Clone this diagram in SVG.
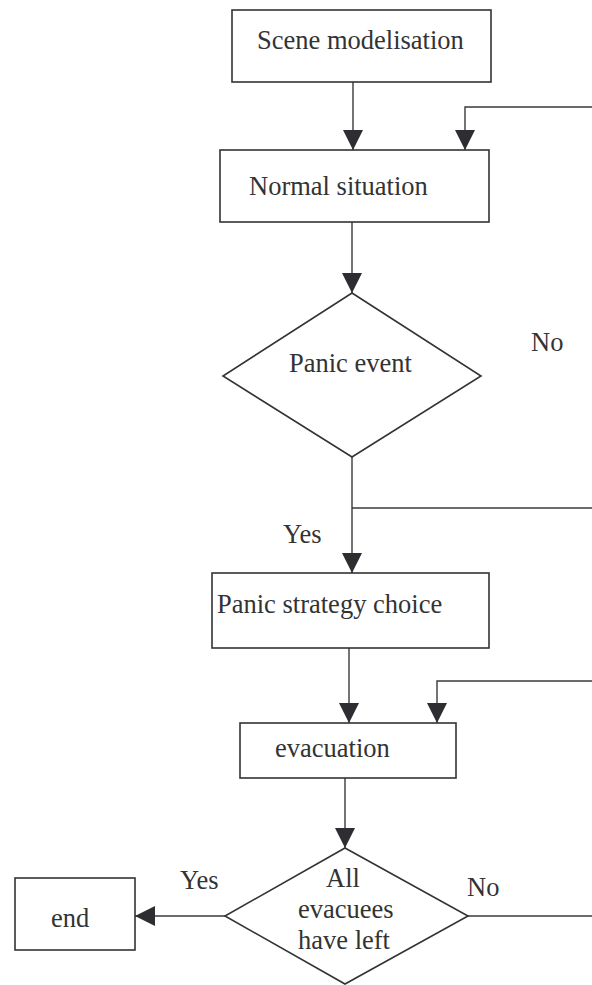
<svg xmlns="http://www.w3.org/2000/svg" width="592" height="985" viewBox="0 0 592 985">
<style>
.box{fill:#fff;stroke:#333;stroke-width:1.6}
.t{font-family:"Liberation Serif","Times New Roman",serif;font-size:26.5px;fill:#333}
.c{fill:none;stroke:#3a3a3a;stroke-width:1.4}
</style>
<defs>
<marker id="ah" markerUnits="userSpaceOnUse" markerWidth="20" markerHeight="20" refX="20" refY="10" orient="auto" viewBox="0 0 20 20">
<path d="M0,0 L20,10 L0,20 z" fill="#2e2e32"/>
</marker>
</defs>
<rect width="592" height="985" fill="#fff"/>
<g id="connectors">
<path class="c" d="M353,82 V150" marker-end="url(#ah)"/>
<path class="c" d="M592,107 H465 V150" marker-end="url(#ah)"/>
<path class="c" d="M352,222 V293" marker-end="url(#ah)"/>
<path class="c" d="M352,457 V573" marker-end="url(#ah)"/>
<path class="c" d="M352,508 H592"/>
<path class="c" d="M349,648 V723" marker-end="url(#ah)"/>
<path class="c" d="M592,681 H437 V723" marker-end="url(#ah)"/>
<path class="c" d="M345,778 V848" marker-end="url(#ah)"/>
<path class="c" d="M225,916 H135" marker-end="url(#ah)"/>
<path class="c" d="M468,916 H592"/>
<text class="t" x="531" y="351">No</text>
<text class="t" x="283" y="543">Yes</text>
<text class="t" x="467" y="896">No</text>
<text class="t" x="180" y="889">Yes</text>
</g>
<g id="scene">
<rect class="box" x="232" y="10" width="259" height="72"/>
<text class="t" x="257" y="49">Scene modelisation</text>
</g>
<g id="normal">
<rect class="box" x="220" y="150" width="269" height="72"/>
<text class="t" x="249" y="195">Normal situation</text>
</g>
<g id="panic">
<polygon class="box" points="352,293 481,376 352,457 223,376"/>
<text class="t" x="289" y="372">Panic event</text>
</g>
<g id="strategy">
<rect class="box" x="212" y="573" width="277" height="75"/>
<text class="t" x="217" y="613">Panic strategy choice</text>
</g>
<g id="evacuation">
<rect class="box" x="240" y="723" width="216" height="55"/>
<text class="t" x="275" y="757">evacuation</text>
</g>
<g id="allleft">
<polygon class="box" points="345,848 468,916 345,984 225,916"/>
<text class="t" x="343" y="887" text-anchor="middle">All</text>
<text class="t" x="298" y="918">evacuees</text>
<text class="t" x="298" y="949">have left</text>
</g>
<g id="end">
<rect class="box" x="15" y="878" width="120" height="72"/>
<text class="t" x="51" y="927">end</text>
</g>
</svg>
